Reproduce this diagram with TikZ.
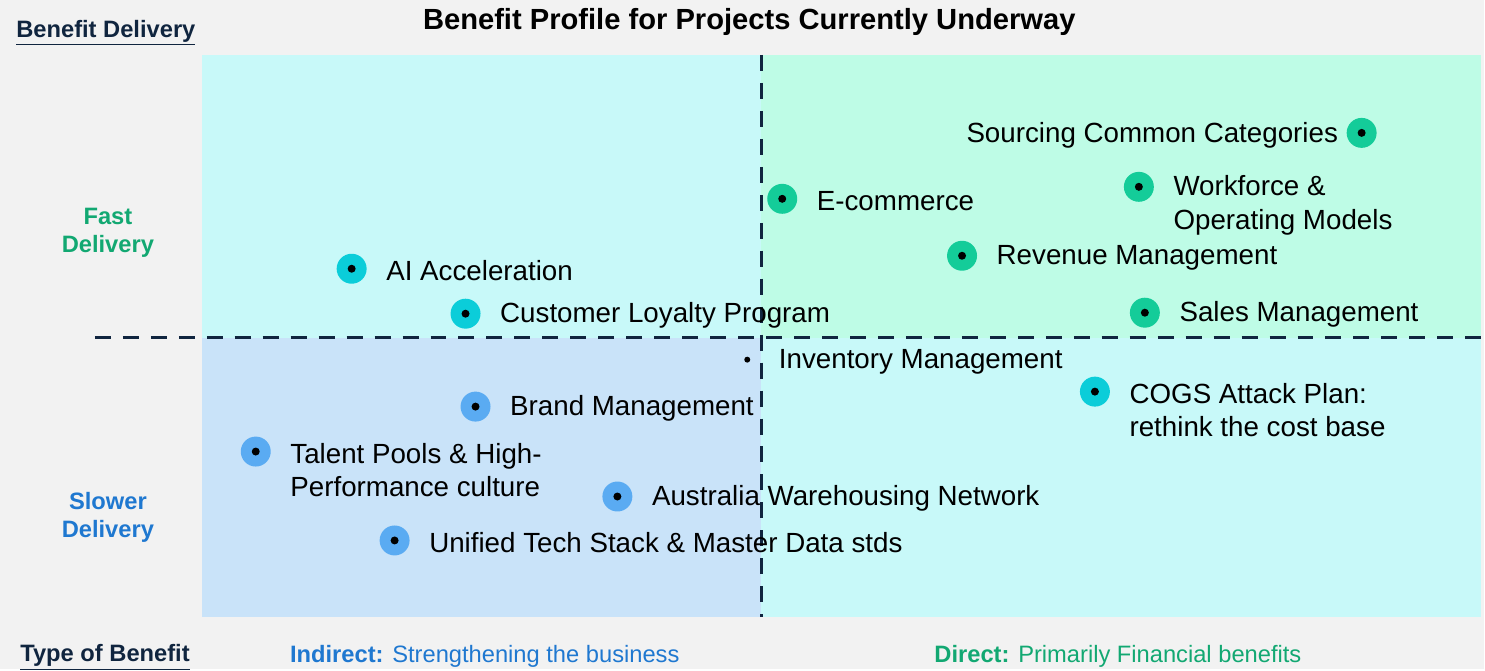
\documentclass[tikz,border=0pt]{standalone}
\usepackage{fontspec}
\setmainfont{Liberation Sans}
\usepackage{xcolor}
\usepackage{tikz}
\usetikzlibrary{positioning}

\definecolor{pagegray}{HTML}{F2F2F2}
\definecolor{quadcyan}{HTML}{C8F9F9}
\definecolor{quadmint}{HTML}{BEFCE6}
\definecolor{quadblue}{HTML}{C9E3F9}
\definecolor{dotgreen}{HTML}{14CC99}
\definecolor{dotcyan}{HTML}{0BCDD9}
\definecolor{dotblue}{HTML}{5AABF2}
\definecolor{navy}{HTML}{10253F}
\definecolor{fastgreen}{HTML}{12A872}
\definecolor{slowblue}{HTML}{1F78D0}

\begin{document}
\begin{tikzpicture}[x=0.02cm, y=-0.02cm,
    benefitdot/.style={circle, minimum size=0.6cm, inner sep=0pt,
        path picture={\fill[black] (path picture bounding box.center) circle (0.08cm);}},
    greendot/.style={benefitdot, fill=dotgreen},
    cyandot/.style={benefitdot, fill=dotcyan},
    bluedot/.style={benefitdot, fill=dotblue},
    itemtext/.style={inner sep=0pt, align=left, yshift=-0.04cm, font=\fontsize{15.8}{19.3}\selectfont},
    sidetext/.style={inner sep=0pt, align=center, font=\fontsize{13.5}{16}\selectfont\bfseries},
    quadline/.style={draw=navy, line width=1.7pt, dash pattern=on 0.32cm off 0.24cm}]

    % --- BACKGROUND AND QUADRANTS ---
    \fill[pagegray] (0,0) rectangle (1485,670);
    \fill[quadcyan] (202,55) rectangle (762,338);
    \fill[quadmint] (762,55) rectangle (1482,338);
    \fill[quadblue] (202,338) rectangle (762,618);
    \fill[quadcyan] (762,338) rectangle (1482,618);
    \draw[quadline] (95,338) -- (1485,338);
    \draw[quadline] (762,55) -- (762,618);

    % --- TITLES AND AXIS LABELS ---
    \node (title) [inner sep=0pt, font=\fontsize{16.6}{20}\selectfont\bfseries] at (750,22) {Benefit Profile for Projects Currently Underway};
    \node (delivery) [sidetext, anchor=west, text=navy] at (16,33) {\underline{Benefit Delivery}};
    \node (fast) [sidetext, text=fastgreen] at (108,233) {Fast\\Delivery};
    \node (slower) [sidetext, text=slowblue] at (108,518) {Slower\\Delivery};
    \node (type) [sidetext, anchor=west, text=navy] at (20,658) {\underline{Type of Benefit}};
    \node (indirect) [inner sep=0pt, anchor=west, text=slowblue, font=\fontsize{13.5}{16}\selectfont] at (290,657) {\textbf{Indirect:} Strengthening the business};
    \node (direct) [inner sep=0pt, anchor=west, text=fastgreen, font=\fontsize{13.5}{16}\selectfont] at (935,657) {\textbf{Direct:} Primarily Financial benefits};

    % --- FAST / DIRECT ---
    \node (sourcing) [greendot] at (1363,133) {};
    \node (sourcinglbl) [itemtext, left=0.16cm of sourcing] {Sourcing Common Categories};
    \node (ecommerce) [greendot] at (783,199) {};
    \node (ecommercelbl) [itemtext, right=0.38cm of ecommerce] {E-commerce};
    \node (workforce) [greendot] at (1140,187) {};
    \node (workforcelbl) [itemtext, right=0.38cm of workforce, yshift=-0.33cm] {Workforce \&\\Operating Models};
    \node (revenue) [greendot] at (963,256) {};
    \node (revenuelbl) [itemtext, right=0.38cm of revenue] {Revenue Management};
    \node (sales) [greendot] at (1146,313) {};
    \node (saleslbl) [itemtext, right=0.38cm of sales] {Sales Management};

    % --- FAST / INDIRECT ---
    \node (ai) [cyandot] at (352,269) {};
    \node (ailbl) [itemtext, right=0.38cm of ai] {AI Acceleration};
    \node (loyalty) [cyandot] at (466,314) {};
    \node (loyaltylbl) [itemtext, right=0.38cm of loyalty] {Customer Loyalty Program};

    % --- SLOWER / DIRECT ---
    \node (inventory) [circle, fill=black, minimum size=0.12cm, inner sep=0pt] at (748,360) {};
    \node (inventorylbl) [itemtext, right=0.56cm of inventory] {Inventory Management};
    \node (cogs) [cyandot] at (1096,392) {};
    \node (cogslbl) [itemtext, right=0.38cm of cogs, yshift=-0.33cm] {COGS Attack Plan:\\rethink the cost base};

    % --- SLOWER / INDIRECT ---
    \node (brand) [bluedot] at (476,407) {};
    \node (brandlbl) [itemtext, right=0.38cm of brand] {Brand Management};
    \node (talent) [bluedot] at (256,452) {};
    \node (talentlbl) [itemtext, right=0.38cm of talent, yshift=-0.33cm] {Talent Pools \& High-\\Performance culture};
    \node (warehousing) [bluedot] at (618,497) {};
    \node (warehousinglbl) [itemtext, right=0.38cm of warehousing] {Australia Warehousing Network};
    \node (techstack) [bluedot] at (395,541) {};
    \node (techstacklbl) [itemtext, right=0.38cm of techstack] {Unified Tech Stack \& Master Data stds};

\end{tikzpicture}
\end{document}
